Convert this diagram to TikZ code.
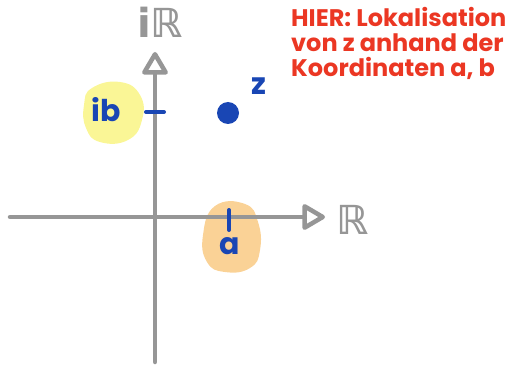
\documentclass[tikz,border=0pt]{standalone}
\usepackage{fontspec}
\setmainfont{Poppins}
\newfontfamily\symfont{DejaVu Sans}
\usetikzlibrary{arrows.meta}
\definecolor{axisgray}{RGB}{150,150,150}
\definecolor{penblue}{RGB}{25,70,180}
\definecolor{penred}{RGB}{235,55,35}
\definecolor{hlyellow}{RGB}{250,246,150}
\definecolor{hlorange}{RGB}{250,210,150}
\tikzset{
  axis/.style={draw=axisgray, line width=4.5pt, line cap=round,
    -{Triangle[open, length=25pt, width=28pt, line width=4.5pt, round]}},
  tickmark/.style={draw=penblue, line width=4pt, line cap=round},
  axislabel/.style={text=axisgray, font=\symfont\fontsize{40}{40}\selectfont\bfseries, inner sep=0pt},
  bluelabel/.style={text=penblue, font=\fontsize{30}{30}\selectfont\bfseries, inner sep=0pt},
  notetext/.style={text=penred, font=\fontsize{24}{25}\selectfont\bfseries, align=left, inner sep=0pt, anchor=north west},
}
\begin{document}
\begin{tikzpicture}[x=1pt,y=-1pt]
\useasboundingbox (0,0) rectangle (524,366);
% highlights
\fill[hlyellow] plot[smooth cycle, tension=0.8] coordinates {(92,88) (120,82) (140,95) (142,120) (128,140) (100,142) (86,128) (84,105)};
\fill[hlorange] plot[smooth cycle, tension=0.8] coordinates {(215,206) (245,204) (258,222) (260,250) (250,268) (225,272) (207,262) (203,235)};
% axes
\coordinate (xstart) at (10,217);
\coordinate (xend) at (325,217);
\coordinate (ystart) at (155,362);
\coordinate (yend) at (155,52);
\draw[axis] (xstart) -- (xend);
\draw[axis] (ystart) -- (yend);
\node[axislabel, anchor=west] (xlab) at (336,220) {ℝ};
\node[axislabel, anchor=south] (ylab) at (160,38) {iℝ};
% ticks
\coordinate (tb1) at (146,112);
\coordinate (tb2) at (164,112);
\draw[tickmark] (tb1) -- (tb2);
\coordinate (ta1) at (229,210);
\coordinate (ta2) at (229,230);
\draw[tickmark] (ta1) -- (ta2);
% labels
\node[bluelabel] (ib) at (106,110) {ib};
\node[bluelabel] (a) at (230,246) {a};
% point z
\fill[penblue] (228,113) circle (11) node (zpt) {};
\node[bluelabel] (z) at (259,86) {z};
% note
\node[notetext] (note) at (291,7) {HIER: Lokalisation\\von z anhand der\\Koordinaten a, b};
\end{tikzpicture}
\end{document}
